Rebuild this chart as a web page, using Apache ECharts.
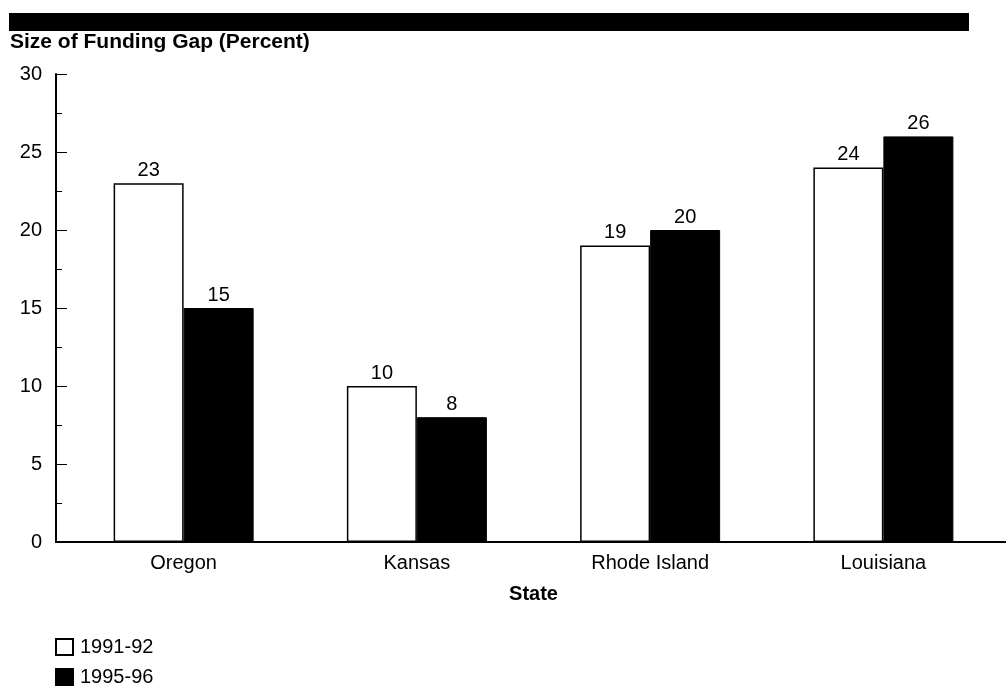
<!DOCTYPE html>
<html>
<head>
<meta charset="utf-8">
<script src="https://cdn.jsdelivr.net/npm/echarts@6/dist/echarts.min.js"></script>
<style>
html,body{margin:0;padding:0;background:#fff;}
#chart{width:1006px;height:687px;}
</style>
</head>
<body>
<div id="chart"></div>
<script>
const categories = ['Oregon', 'Kansas', 'Rhode Island', 'Louisiana'];
const values9192 = [23, 10, 19, 24];
const values9596 = [15, 8, 20, 26];
const seriesNames = ['1991-92', '1995-96'];
const yTicks = [0, 5, 10, 15, 20, 25, 30];

const FONT = '"Liberation Sans", Arial, sans-serif';
const FS = 20;
const chart = echarts.init(document.getElementById('chart'), null, {renderer: 'canvas'});

const labelStyle = {show: true, position: 'top', distance: 3, color: '#000', fontSize: FS, fontFamily: FONT};

chart.setOption({
  animation: false,
  backgroundColor: '#fff',
  title: {
    text: 'Size of Funding Gap (Percent)',
    left: 10, top: 32, padding: 0,
    textStyle: {fontSize: 21, fontWeight: 'bold', color: '#000', fontFamily: FONT}
  },
  legend: {
    orient: 'vertical', left: 55, top: 637, height: 50, padding: 0,
    itemWidth: 17, itemHeight: 16, itemGap: 10,
    icon: 'rect',
    textStyle: {fontSize: FS, color: '#000', fontFamily: FONT, padding: [0, 0, 0, 2]},
    data: seriesNames
  },
  grid: {left: 67, right: 6, top: 74, bottom: 145, containLabel: false},
  xAxis: {
    type: 'category',
    data: categories,
    name: 'State',
    nameLocation: 'middle',
    nameGap: 42,
    nameTextStyle: {fontSize: FS, fontWeight: 'bold', color: '#000', fontFamily: FONT},
    axisLine: {show: false},
    axisTick: {show: false},
    axisLabel: {fontSize: FS, color: '#000', fontFamily: FONT, margin: 11},
    splitLine: {show: false}
  },
  yAxis: {
    type: 'value',
    min: 0, max: 30, interval: 5,
    offset: 11,
    axisLine: {show: true, lineStyle: {color: '#000', width: 2}},
    axisTick: {show: true, inside: true, length: 11, lineStyle: {color: '#000', width: 1}},
    minorTick: {show: true, splitNumber: 2, length: 6, lineStyle: {color: '#000', width: 1}},
    axisLabel: {fontSize: FS, color: '#000', fontFamily: FONT, margin: 14,
      formatter: v => yTicks.includes(v) ? String(v) : ''},
    splitLine: {show: false}
  },
  series: [
    {
      name: seriesNames[0], type: 'bar', data: values9192,
      barWidth: 70, barGap: 0,
      itemStyle: {color: '#fff', borderColor: '#000', borderWidth: 1.5},
      label: labelStyle
    },
    {
      name: seriesNames[1], type: 'bar', data: values9596,
      barWidth: 70, barGap: 0,
      itemStyle: {color: '#000', borderColor: '#000', borderWidth: 1},
      label: labelStyle
    }
  ],
  graphic: [
    {type: 'rect', left: 9, top: 13, shape: {width: 960, height: 18}, style: {fill: '#000'}},
    {type: 'line', shape: {x1: 55, y1: 542, x2: 1006, y2: 542}, style: {stroke: '#000', lineWidth: 2}, z: 100}
  ]
});
</script>
</body>
</html>
